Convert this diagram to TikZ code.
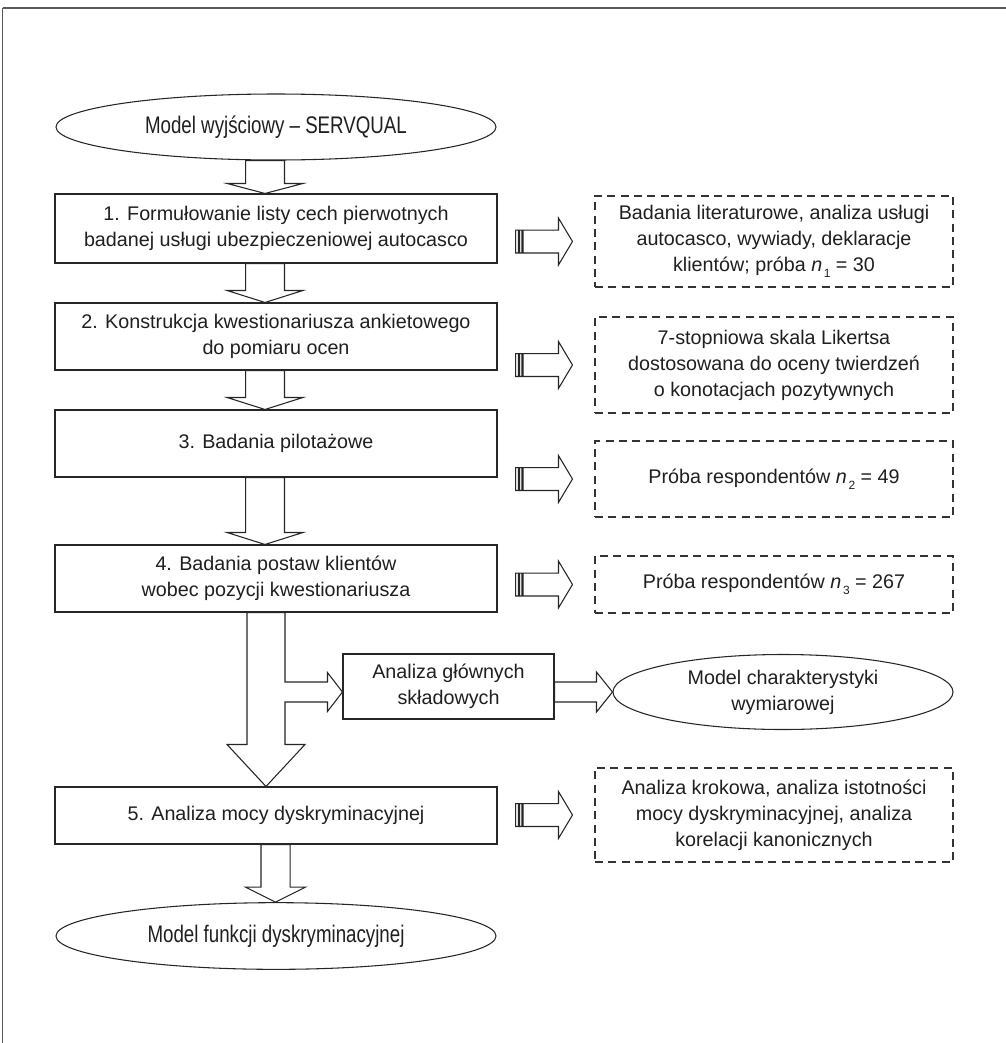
\documentclass[tikz,border=0pt]{standalone}
\usepackage{fontspec}
\setmainfont{Liberation Sans}
\newfontfamily\narrowsans[FakeStretch=0.78]{Liberation Sans}
\usetikzlibrary{shapes.geometric,calc}

% hollow arrow pointing down, from #1 to the top of #2
% #3 shaft half width, #4 head half width, #5 head length
\newcommand\blockdown[5]{%
  \draw[blk] let \p1=(#1), \p2=(#2) in
    (\x1-#3,\y1) -- (\x1+#3,\y1) -- (\x1+#3,\y2+#5) -- (\x1+#4,\y2+#5)
    -- (\x1,\y2) -- (\x1-#4,\y2+#5) -- (\x1-#3,\y2+#5) -- cycle;}
% hollow arrow pointing right, from #1 to #2
\newcommand\blockright[5]{%
  \draw[blk] let \p1=(#1), \p2=(#2) in
    (\x1,\y1+#3) -- (\x2-#5,\y1+#3) -- (\x2-#5,\y1+#4) -- (\x2,\y1)
    -- (\x2-#5,\y1-#4) -- (\x2-#5,\y1-#3) -- (\x1,\y1-#3) -- cycle;}
% striped hollow arrow between a step box #1 and its note #2
\newcommand\stripedright[2]{%
  \draw[blk] let \p1=(#1.east), \p2=(#2.west) in
    (\x1+13.5pt,\y2-8.6pt) rectangle (\x1+15.6pt,\y2+8.6pt)
    (\x1+16.6pt,\y2-8.6pt) rectangle (\x1+18.2pt,\y2+8.6pt)
    (\x1+19.2pt,\y2-8.6pt) -- (\x2-27pt,\y2-8.6pt) -- (\x2-27pt,\y2-17.6pt)
    -- (\x2-16.5pt,\y2) -- (\x2-27pt,\y2+17.6pt) -- (\x2-27pt,\y2+8.6pt)
    -- (\x1+19.2pt,\y2+8.6pt) -- cycle;}

\newcommand\nsub[1]{\textit{n}\kern1.2pt\raisebox{-0.6ex}{\fontsize{9}{9}\selectfont #1}}

\begin{document}
\begin{tikzpicture}[x=0.75pt,y=-0.75pt,
  lbl/.style={font=\fontsize{14.8}{19.5}\selectfont, text=black!88, align=center},
  stepbox/.style={draw=black!85, line width=0.8pt, inner sep=0pt, minimum width=331.5pt, lbl},
  notebox/.style={draw=black!80, line width=0.8pt, dash pattern=on 6pt off 4pt, inner sep=0pt, minimum width=268.5pt, lbl},
  oval/.style={ellipse, draw=black!85, line width=0.8pt, inner sep=0pt, lbl},
  narrowlbl/.style={font=\narrowsans\fontsize{18}{21}\selectfont},
  blk/.style={draw=black!85, line width=0.8pt, fill=white, line join=miter},
]
\useasboundingbox (0,0) rectangle (1006,1043);

% page frame
\draw[black!65, line width=1.5pt] (2.5,7.5) -- (1006,7.5);
\draw[black!65, line width=0.8pt] (2.5,7.5) -- (2.5,1043);

% main flow
\node[oval, narrowlbl, minimum width=330pt, minimum height=49.5pt] (e1) at (276,127)
  {Model wyjściowy – SERVQUAL};
\node[stepbox, minimum height=51.75pt] (b1) at (276,228.5)
  {1. Formułowanie listy cech pierwotnych\\badanej usługi ubezpieczeniowej autocasco};
\node[stepbox, minimum height=50.25pt] (b2) at (276,336.5)
  {2. Konstrukcja kwestionariusza ankietowego\\do pomiaru ocen};
\node[stepbox, minimum height=50.25pt] (b3) at (276,443.5)
  {3. Badania pilotażowe};
\node[stepbox, minimum height=50.25pt] (b4) at (276,578.5)
  {4. Badania postaw klientów\\wobec pozycji kwestionariusza};
\node[stepbox, minimum width=158.25pt, minimum height=48.75pt] (ana) at (448.5,686.5)
  {Analiza głównych\\składowych};
\node[oval, minimum width=255pt, minimum height=56.25pt] (e2) at (783,692)
  {Model charakterystyki\\wymiarowej};
\node[stepbox, minimum height=42.75pt] (b5) at (276,815.5)
  {5. Analiza mocy dyskryminacyjnej};
\node[oval, narrowlbl, minimum width=330pt, minimum height=50pt] (e3) at (276,936)
  {Model funkcji dyskryminacyjnej};

% notes
\node[notebox, minimum height=68.25pt] (d1) at (774,241.5)
  {Badania literaturowe, analiza usługi\\autocasco, wywiady, deklaracje\\klientów; próba \nsub{1} = 30};
\node[notebox, minimum height=72pt] (d2) at (774,365)
  {7-stopniowa skala Likertsa\\dostosowana do oceny twierdzeń\\o konotacjach pozytywnych};
\node[notebox, minimum height=57pt] (d3) at (774,479)
  {Próba respondentów \nsub{2} = 49};
\node[notebox, minimum height=42.75pt] (d4) at (774,584.5)
  {Próba respondentów \nsub{3} = 267};
\node[notebox, minimum height=70.5pt] (d5) at (774,815)
  {Analiza krokowa, analiza istotności\\mocy dyskryminacyjnej, analiza\\korelacji kanonicznych};

% arrow axes
\coordinate (ax1) at (265,0);
\coordinate (ax2) at (266,0);
\coordinate (ax3) at (275.5,0);

% vertical arrows
\blockdown{e1.south -| ax1}{b1.north -| ax1}{14.6pt}{28.5pt}{7.5pt}
\blockdown{b1.south -| ax1}{b2.north -| ax1}{14.6pt}{28.5pt}{9pt}
\blockdown{b2.south -| ax1}{b3.north -| ax1}{14.6pt}{28.5pt}{9pt}
\blockdown{b3.south -| ax1}{b4.north -| ax1}{14.6pt}{28.5pt}{9pt}
\blockdown{b5.south -| ax3}{e3.north -| ax3}{10.9pt}{22.5pt}{11.25pt}

% large arrow with branch to the component analysis
\draw[blk] let \p1=(b4.south -| ax2), \p2=(b5.north -| ax2), \p3=(ana.west |- e2.west) in
  (\x1-14.25pt,\y1) -- (\x1+14.25pt,\y1) -- (\x1+14.25pt,\y3+7.5pt)
  -- (\x3-11.25pt,\y3+7.5pt) -- (\x3-11.25pt,\y3+14.6pt) -- (\x3,\y3)
  -- (\x3-11.25pt,\y3-14.6pt) -- (\x3-11.25pt,\y3-7.5pt) -- (\x1+14.25pt,\y3-7.5pt)
  -- (\x1+14.25pt,\y2+31.5pt) -- (\x1+29.25pt,\y2+31.5pt) -- (\x1,\y2)
  -- (\x1-29.25pt,\y2+31.5pt) -- (\x1-14.25pt,\y2+31.5pt) -- cycle;

\blockright{ana.east |- e2.west}{e2.west}{7.5pt}{15pt}{12pt}

% striped arrows to the notes
\stripedright{b1}{d1}
\stripedright{b2}{d2}
\stripedright{b3}{d3}
\stripedright{b4}{d4}
\stripedright{b5}{d5}
\end{tikzpicture}
\end{document}
